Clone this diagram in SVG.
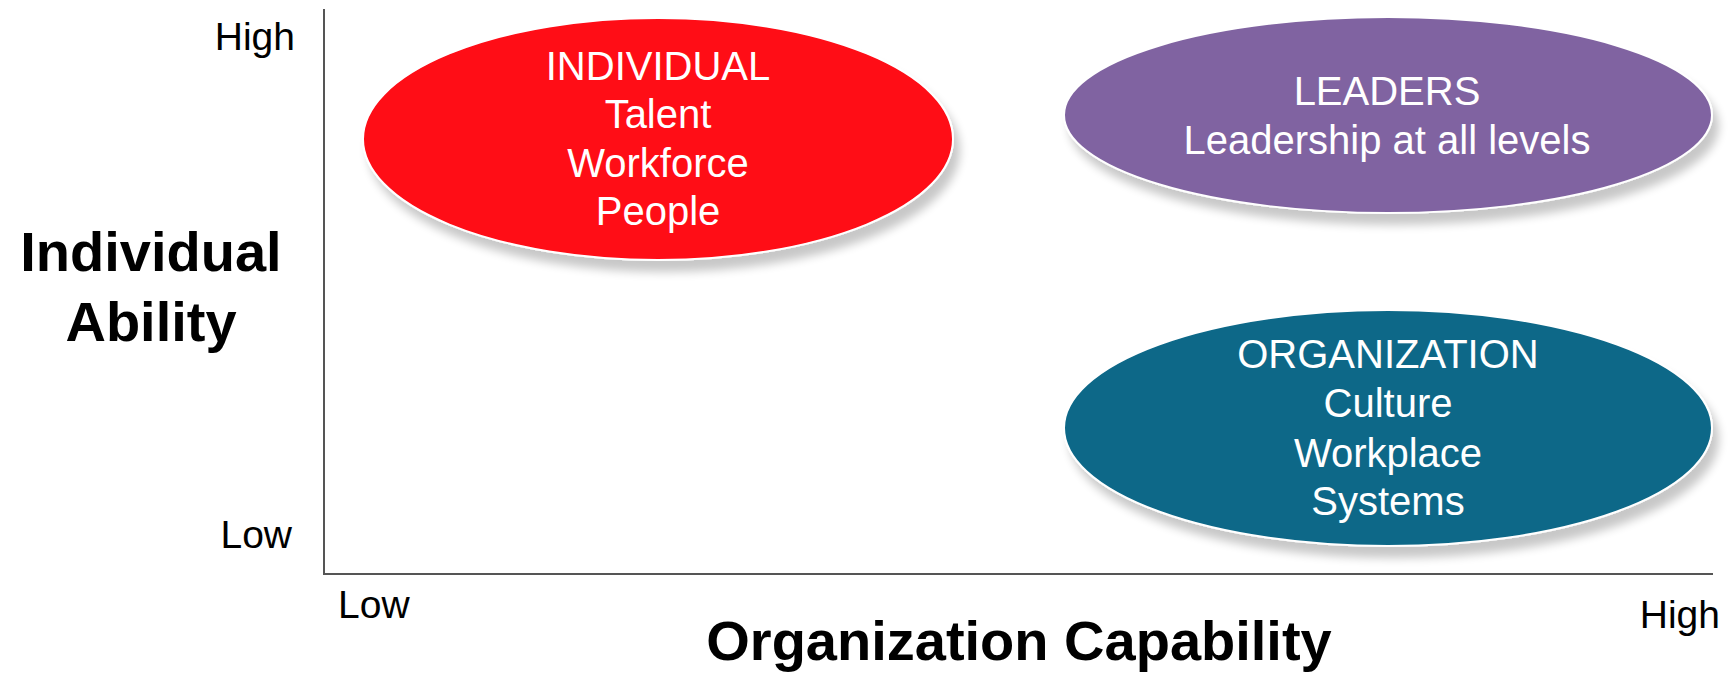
<svg xmlns="http://www.w3.org/2000/svg" width="1728" height="676" viewBox="0 0 1728 676">
<defs>
<filter id="sh" x="-10%" y="-10%" width="125%" height="140%">
<feGaussianBlur in="SourceAlpha" stdDeviation="5"/>
<feOffset dx="6" dy="11" result="b"/>
<feComponentTransfer><feFuncA type="linear" slope="0.22"/></feComponentTransfer>
<feMerge><feMergeNode/><feMergeNode in="SourceGraphic"/></feMerge>
</filter>
<style>
.ax{stroke:#555;stroke-width:2;fill:none}
.lbl{font-family:"Liberation Sans",Arial,sans-serif;font-size:39px;fill:#000}
.ttl{font-family:"Liberation Sans",Arial,sans-serif;font-size:56px;font-weight:bold;fill:#000}
.nt{font-family:"Liberation Sans",Arial,sans-serif;font-size:40px;fill:#fff;text-anchor:middle}
.el{stroke:#fff;stroke-width:2;filter:url(#sh)}
</style>
</defs>
<rect width="1728" height="676" fill="#fff"/>
<g id="axes">
<line class="ax" x1="324" y1="9" x2="324" y2="574"/>
<line class="ax" x1="323" y1="574" x2="1713" y2="574"/>
</g>
<g id="axis-labels">
<text class="lbl" x="295" y="50" text-anchor="end">High</text>
<text class="lbl" x="292" y="548" text-anchor="end">Low</text>
<text class="lbl" x="338" y="618">Low</text>
<text class="lbl" x="1720" y="628" text-anchor="end">High</text>
<text class="ttl" x="151" y="271" text-anchor="middle">Individual</text>
<text class="ttl" x="151" y="341" text-anchor="middle">Ability</text>
<text class="ttl" x="1019" y="660" text-anchor="middle">Organization Capability</text>
</g>
<g id="individual">
<ellipse class="el" cx="658" cy="139" rx="295" ry="121" fill="#FF0A16"/>
<text class="nt" x="658" y="80">INDIVIDUAL</text>
<text class="nt" x="658" y="128">Talent</text>
<text class="nt" x="658" y="177">Workforce</text>
<text class="nt" x="658" y="225">People</text>
</g>
<g id="leaders">
<ellipse class="el" cx="1388" cy="115" rx="324" ry="98" fill="#8064A1"/>
<text class="nt" x="1387" y="105">LEADERS</text>
<text class="nt" x="1387" y="154">Leadership at all levels</text>
</g>
<g id="organization">
<ellipse class="el" cx="1388" cy="428" rx="324" ry="118" fill="#0D6888"/>
<text class="nt" x="1388" y="368">ORGANIZATION</text>
<text class="nt" x="1388" y="417">Culture</text>
<text class="nt" x="1388" y="467">Workplace</text>
<text class="nt" x="1388" y="515">Systems</text>
</g>
<g id="connectors"/>
</svg>
